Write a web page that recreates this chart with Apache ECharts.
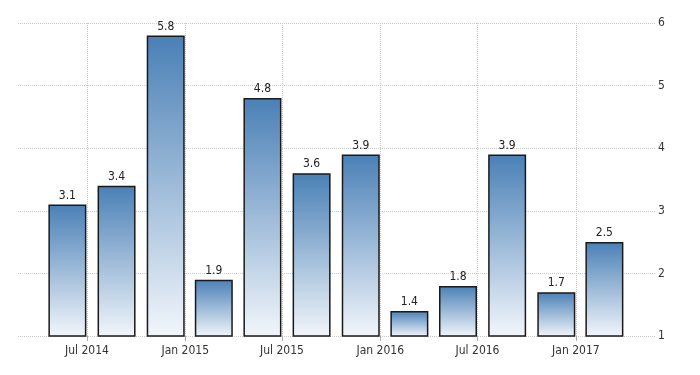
<!DOCTYPE html>
<html>
<head>
<meta charset="utf-8">
<script src="https://cdn.jsdelivr.net/npm/echarts@6/dist/echarts.min.js"></script>
<style>
  html, body { margin: 0; padding: 0; background: #fff; }
  #chart { width: 700px; height: 375px; }
</style>
</head>
<body>
<div id="chart"></div>
<script>
// quarter end dates and values
const quarterEnds = ['2014-06-30', '2014-09-30', '2014-12-31', '2015-03-31',
                     '2015-06-30', '2015-09-30', '2015-12-31', '2016-03-31',
                     '2016-06-30', '2016-09-30', '2016-12-31', '2017-03-31'];
const values = [3.1, 3.4, 5.8, 1.9, 4.8, 3.6, 3.9, 1.4, 1.8, 3.9, 1.7, 2.5];
const monthNames = ['Jan', 'Feb', 'Mar', 'Apr', 'May', 'Jun',
                    'Jul', 'Aug', 'Sep', 'Oct', 'Nov', 'Dec'];
const yTicks = [1, 2, 3, 4, 5, 6];

const chart = echarts.init(document.getElementById('chart'));
const halfYear = 182 * 24 * 3600 * 1000;
const font = '"DejaVu Sans Condensed", sans-serif';
const xMin = new Date(2014, 1, 22).getTime();
const xMax = new Date(2017, 4, 31).getTime();
const toTime = s => { const p = s.split('-'); return new Date(+p[0], p[1] - 1, +p[2]).getTime(); };

const option = {
  backgroundColor: '#ffffff',
  animation: false,
  grid: { left: 18, right: 44, top: 23, bottom: 39 },
  xAxis: [
    {
      // visible date axis: labels, ticks and vertical grid
      type: 'time',
      min: xMin,
      max: xMax,
      minInterval: halfYear,
      maxInterval: halfYear,
      axisLine: { show: false },
      axisTick: { show: true, length: 5, lineStyle: { color: '#aaa' } },
      axisLabel: {
        color: '#333',
        fontSize: 12,
        fontFamily: font,
        margin: 9,
        showMinLabel: false,
        showMaxLabel: false,
        formatter: function (v) {
          const d = new Date(v);
          return monthNames[d.getMonth()] + ' ' + d.getFullYear();
        }
      },
      splitLine: {
        show: true,
        showMinLine: false,
        showMaxLine: false,
        lineStyle: { color: '#ccc', type: 'dotted' }
      }
    },
    {
      // same range, carries the bars
      type: 'value',
      min: xMin,
      max: xMax,
      show: false,
      splitLine: { show: false }
    }
  ],
  yAxis: {
    type: 'value',
    position: 'right',
    min: yTicks[0],
    max: yTicks[yTicks.length - 1],
    interval: 1,
    axisLine: { show: false },
    axisTick: { show: false },
    axisLabel: { color: '#333', fontSize: 12, fontFamily: font, margin: 2 },
    splitLine: { lineStyle: { color: '#ccc', type: 'dotted' } }
  },
  series: [
    {
      type: 'bar',
      xAxisIndex: 1,
      barWidth: 38,
      barGap: '0%',
      data: quarterEnds.map((d, i) => [toTime(d), values[i]]),
      itemStyle: {
        borderColor: '#1a1a1a',
        borderWidth: 1.5,
        color: new echarts.graphic.LinearGradient(0, 0, 0, 1, [
          { offset: 0, color: '#4a80b6' },
          { offset: 1, color: '#f2f6fb' }
        ])
      },
      label: {
        show: true,
        position: 'top',
        distance: 3,
        color: '#222',
        fontSize: 12,
        fontFamily: font
      }
    },
    // empty companion series so the bars end on their quarter date
    { type: 'bar', xAxisIndex: 1, barWidth: 38, data: [], silent: true }
  ]
};
chart.setOption(option);
</script>
</body>
</html>
